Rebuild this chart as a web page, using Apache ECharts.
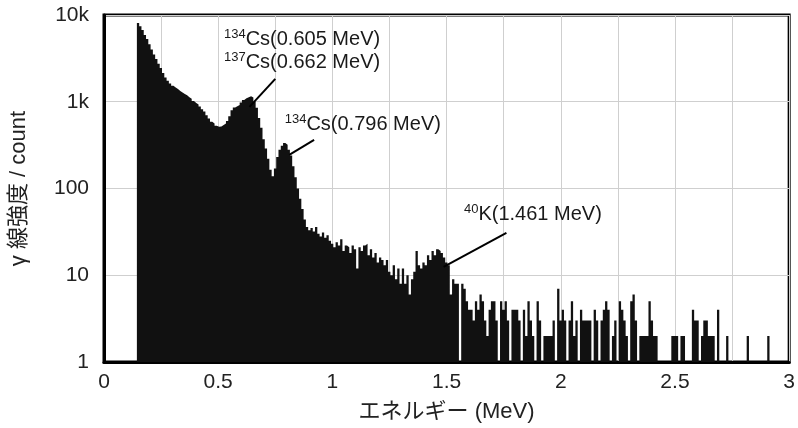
<!DOCTYPE html>
<html><head><meta charset="utf-8">
<script src="https://cdn.jsdelivr.net/npm/echarts@6/dist/echarts.min.js"></script>
<style>html,body{margin:0;padding:0;background:#fff}#c{width:798px;height:428px}</style>
</head><body><div id="c"></div>
<script>
// Channel calibration (MeV)
const binStart = 0.144;
const binWidth = 0.01;
// Counts per channel; 1 = empty channel (axis floor)
const counts = [
  8100, 7400, 6700, 5900, 5300, 4600, 4000, 3500, 3100, 2750, // 0.145-
  2450, 2150, 1900, 1750, 1620, 1530, 1460, 1400, 1330, 1280, // 0.245-
  1230, 1190, 1130, 1080, 1020, 970, 930, 880, 820, 770,      // 0.345-
  700, 640, 590, 560, 530, 515, 520, 540, 560, 600,           // 0.445-
  680, 800, 860, 890, 920, 980, 1050, 1100, 1130, 1160,       // 0.545-
  1120, 1000, 850, 650, 500, 370, 290, 220, 165, 138,         // 0.645-
  170, 230, 280, 310, 335, 320, 280, 240, 180, 135,           // 0.745-
  100, 76, 58, 44, 36, 33, 35, 32, 36, 30,                    // 0.845-
  28, 31, 27, 29, 25, 23, 21, 24, 22, 26,                     // 0.945-
  19, 22, 21, 18, 22, 20, 12, 21, 19, 22,                     // 1.045-
  23, 17, 20, 16, 18, 14, 16, 15, 13, 15,                     // 1.145-
  11, 10, 13, 9, 12, 8, 12, 8, 10, 6,                         // 1.245-
  9, 11, 19, 13, 12, 14, 13, 17, 15, 19,                      // 1.345-
  17, 20, 19, 18, 16, 14, 13, 6, 9, 8,                        // 1.445-
  8, 1, 8, 7, 5, 4, 4, 3, 5, 4,                               // 1.545-
  6, 5, 3, 2, 4, 5, 5, 3, 1, 5,                               // 1.645-
  4, 5, 3, 1, 4, 4, 4, 3, 1, 4,                               // 1.745-
  2, 5, 3, 2, 1, 5, 3, 1, 2, 2,                               // 1.845-
  2, 2, 3, 1, 7, 3, 4, 3, 1, 3,                               // 1.945-
  5, 2, 3, 1, 4, 3, 3, 3, 3, 1,                               // 2.045-
  4, 3, 1, 3, 4, 5, 4, 1, 2, 3,                               // 2.145-
  1, 5, 4, 3, 2, 1, 5, 6, 3, 1,                               // 2.245-
  2, 2, 2, 2, 5, 3, 2, 2, 1, 1,                               // 2.345-
  1, 1, 1, 1, 2, 2, 2, 1, 2, 2,                               // 2.445-
  1, 1, 1, 4, 3, 3, 1, 2, 3, 3,                               // 2.545-
  2, 2, 2, 1, 4, 1, 1, 1, 2, 1,                               // 2.645-
  1, 1, 1, 1, 1, 1, 1, 2, 1, 1,                               // 2.745-
  1, 1, 1, 1, 1, 1, 2                                         // 2.845-
];
const xTicks = [0, 0.5, 1, 1.5, 2, 2.5, 3];
const yTicks = [1, 10, 100, 1000, 10000];
const yTickLabels = ['1', '10', '100', '1k', '10k'];
// Peak annotations: label anchor [E, count], leader line from / to
const peakLabels = [
  { sup: ['134', '137'], txt: ['Cs(0.605 MeV)', 'Cs(0.662 MeV)'], at: [0.523, 3865] },
  { sup: ['134'], txt: ['Cs(0.796 MeV)'], at: [0.789, 542] },
  { sup: ['40'], txt: ['K(1.461 MeV)'], at: [1.574, 49.6] }
];
const leaders = [
  [[0.750, 1837], [0.637, 873]],
  [[0.920, 364], [0.811, 244]],
  [[1.762, 30.7], [1.487, 12.5]]
];

const FONT = '"Liberation Sans", Arial, "Noto Sans CJK JP", sans-serif';
const data = counts.map((c, i) => [binStart + i * binWidth, c]);
data.push([binStart + counts.length * binWidth, 1]);

const chart = echarts.init(document.getElementById('c'), null, { renderer: 'canvas' });
chart.setOption({
  animation: false,
  backgroundColor: '#fff',
  grid: { left: 102, right: 8, top: 15, bottom: 66, show: true, borderColor: '#000', borderWidth: 3, backgroundColor: 'transparent' },
  xAxis: {
    type: 'value', min: 0, max: 3, interval: 0.5,
    name: 'エネルギー (MeV)', nameLocation: 'middle', nameGap: 39,
    nameTextStyle: { fontFamily: FONT, fontSize: 22, color: '#222' },
    axisLine: { show: true, lineStyle: { color: '#000', width: 3 } },
    axisTick: { show: false },
    minorTick: { show: false, splitNumber: 2 },
    minorSplitLine: { show: true, lineStyle: { color: '#cfcfcf', width: 1 } },
    splitLine: { show: true, lineStyle: { color: '#cfcfcf', width: 1 } },
    axisLabel: { fontFamily: FONT, fontSize: 21, color: '#222', margin: 10,
      formatter: v => xTicks.includes(+v.toFixed(2)) ? String(+v.toFixed(2)) : '' }
  },
  yAxis: {
    type: 'log', logBase: 10, min: 1, max: 10000,
    name: 'γ 線強度 / count', nameLocation: 'middle', nameGap: 74, nameRotate: 90,
    nameTextStyle: { fontFamily: FONT, fontSize: 22, color: '#222' },
    axisLine: { show: true, lineStyle: { color: '#000', width: 3 } },
    axisTick: { show: false },
    splitLine: { show: true, lineStyle: { color: '#cfcfcf', width: 1 } },
    axisLabel: { fontFamily: FONT, fontSize: 21, color: '#222', margin: 15, padding: [12, 0, 0, 0],
      formatter: v => { const k = yTicks.indexOf(Math.round(v)); return k >= 0 ? yTickLabels[k] : ''; } }
  },
  series: [{
    type: 'line', data: data, step: 'end', showSymbol: false, symbol: 'none',
    lineStyle: { width: 0, color: '#111' },
    areaStyle: { color: '#111', opacity: 1, origin: 'start' },
    z: 2,
    markLine: {
      silent: true, symbol: ['none', 'none'], animation: false,
      label: { show: false },
      lineStyle: { color: '#000', width: 2, type: 'solid' },
      data: leaders.map(l => [{ coord: l[0] }, { coord: l[1] }])
    },
    markPoint: {
      silent: true, symbol: 'circle', symbolSize: 1, itemStyle: { color: 'rgba(0,0,0,0)' },
      data: peakLabels.map(p => ({
        coord: p.at,
        label: {
          show: true, position: 'right', distance: 0, color: '#1a1a1a',
          formatter: p.sup.map((s, i) => '{s|' + s + '}{t|' + p.txt[i] + '}').join('\n'),
          rich: {
            s: { fontFamily: FONT, fontSize: 13, lineHeight: 23, verticalAlign: 'top', color: '#1a1a1a' },
            t: { fontFamily: FONT, fontSize: 20, lineHeight: 23, color: '#1a1a1a' }
          }
        }
      }))
    }
  }]
});
</script></body></html>
